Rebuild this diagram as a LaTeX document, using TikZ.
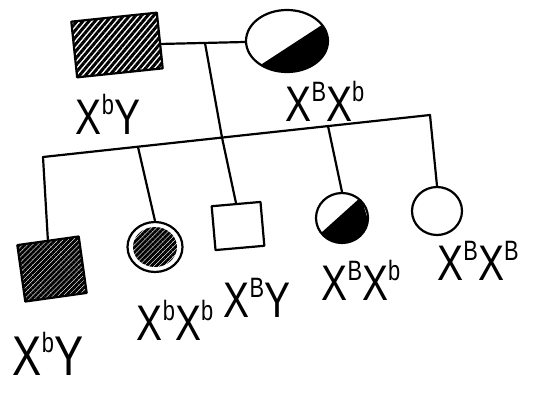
\documentclass[tikz,border=0pt]{standalone}
\usepackage{fontspec}
\setmainfont{Liberation Sans}
\newfontfamily\handfont[FakeStretch=0.78]{Liberation Sans}
\usetikzlibrary{shapes.geometric,patterns.meta}
\newcommand\gsup[1]{\raisebox{0.40em}{\fontsize{28}{28}\selectfont #1}}
\begin{document}
\begin{tikzpicture}[x=1pt,y=-1pt,line width=2.2pt,line join=round,line cap=round,
  malebox/.style={draw,rectangle,inner sep=0pt},
  femcirc/.style={draw,ellipse,inner sep=0pt},
  hatch/.style={pattern={Lines[angle=50,distance=4.6pt,line width=3pt]}},
  darkhatch/.style={pattern={Lines[angle=45,distance=3.6pt,line width=2.9pt]}},
  gt/.style={font=\handfont\fontsize{50}{50}\selectfont,inner sep=0pt},
  gtbig/.style={font=\handfont\fontsize{56}{56}\selectfont,inner sep=0pt},
  link/.style={line width=2.2pt}]
\useasboundingbox (0,0) rectangle (557,392);
% parents
\node[malebox,hatch,minimum width=86pt,minimum height=56pt,rotate=6] (fa) at (117,45) {};
\begin{scope}
  \clip (287,41) ellipse [x radius=41, y radius=31];
  \fill (262,64) -- (328,21) -- (340,90) -- (240,90) -- cycle;
\end{scope}
\node[femcirc,minimum width=82pt,minimum height=62pt] (mo) at (287,41) {};
\draw[link] (fa) -- (mo);
\coordinate (m) at (205,43);
% sibship
\coordinate (s1) at (43,157);
\coordinate (s2) at (138,147);
\coordinate (s3) at (222,137.5);
\coordinate (s4) at (328,126);
\coordinate (s5) at (430,115);
\draw[link] (s1) -- (s5);
% children
\node[malebox,darkhatch,minimum width=62pt,minimum height=57pt,rotate=8] (c1) at (52,269) {};
\fill[darkhatch] (155,247) ellipse [x radius=22, y radius=20];
\node[femcirc,minimum width=55pt,minimum height=50pt] (c2) at (155,247) {};
\node[malebox,minimum width=49pt,minimum height=44pt,rotate=5] (c3) at (238,226) {};
\begin{scope}
  \clip (342,218) ellipse [x radius=26, y radius=25];
  \fill (321,233) -- (361,197) -- (380,260) -- (300,260) -- cycle;
\end{scope}
\node[femcirc,minimum width=52pt,minimum height=50pt] (c4) at (342,218) {};
\node[femcirc,minimum width=50pt,minimum height=48pt] (c5) at (437,211) {};
% drops
\draw[link] (m) -- (s3) -- (c3.north);
\draw[link] (s1) -- (c1.north);
\draw[link] (s2) -- (c2.north);
\draw[link] (s4) -- (c4.north);
\draw[link] (s5) -- (c5.north);
% labels
\node[gt] (lfa) at (108,114) {X\gsup{b}Y};
\node[gt] (lmo) at (325,101) {X\gsup{B}X\gsup{b}};
\node[gtbig] (l1) at (48,354) {X\gsup{b}Y};
\node[gt] (l2) at (175,320) {X\gsup{b}X\gsup{b}};
\node[gt] (l3) at (257,298) {X\gsup{B}Y};
\node[gt] (l4) at (361,280) {X\gsup{B}X\gsup{b}};
\node[gt] (l5) at (478,261) {X\gsup{B}X\gsup{B}};
\end{tikzpicture}
\end{document}
